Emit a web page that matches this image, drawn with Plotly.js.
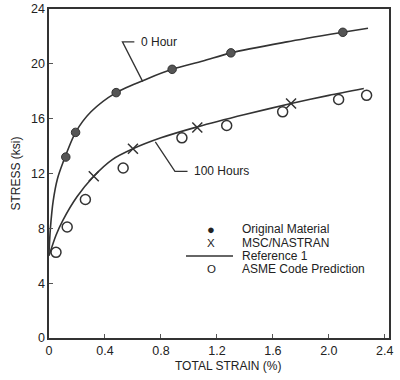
<!DOCTYPE html>
<html><head><meta charset="utf-8">
<script src="https://cdn.plot.ly/plotly-3.0.1.min.js"></script>
<style>html,body{margin:0;padding:0;background:#fff}#chart{width:400px;height:380px}</style>
</head><body><div id="chart"></div>
<script>
// Reference 1 fitted curves
const curve0hX = [0, 0.01, 0.03, 0.06, 0.1, 0.19, 0.3, 0.48, 0.7, 0.88, 1.1, 1.3, 1.7, 2.1, 2.28];
const curve0hY = [6.2, 8.0, 10.0, 11.6, 12.8, 15.0, 16.5, 17.9, 18.9, 19.6, 20.2, 20.8, 21.6, 22.3, 22.6];
const curve100hX = [0, 0.05, 0.1, 0.2, 0.32, 0.45, 0.6, 0.8, 1.06, 1.4, 1.73, 2.0, 2.25];
const curve100hY = [6.0, 7.5, 8.6, 10.3, 11.8, 13.0, 13.8, 14.6, 15.4, 16.3, 17.1, 17.7, 18.2];
// Original material (0 hour)
const origX = [0.12, 0.19, 0.48, 0.88, 1.30, 2.10];
const origY = [13.2, 15.0, 17.9, 19.6, 20.8, 22.3];
// MSC/NASTRAN (100 hours)
const nastranX = [0.32, 0.60, 1.06, 1.73];
const nastranY = [11.8, 13.8, 15.35, 17.1];
// ASME Code Prediction
const asmeX = [0.05, 0.13, 0.26, 0.53, 0.95, 1.27, 1.67, 2.07, 2.27];
const asmeY = [6.25, 8.1, 10.1, 12.4, 14.6, 15.5, 16.5, 17.4, 17.7];
// Axis ticks
const xTicks = [0, 0.4, 0.8, 1.2, 1.6, 2.0, 2.4];
const xTickText = ["0", "0.4", "0.8", "1.2", "1.6", "2.0", "2.4"];
const yTicks = [0, 4, 8, 12, 16, 20, 24];
const legendLabels = ["Original Material", "MSC/NASTRAN", "Reference 1", "ASME Code Prediction"];

const ink = '#333';
const fam = 'Liberation Sans, Arial, sans-serif';
const font = {family: fam, size: 12, color: '#222'};

const traces = [
  {x: curve0hX, y: curve0hY, mode: 'lines', line: {color: ink, width: 1.6, shape: 'spline', smoothing: 0.8}, hoverinfo: 'skip'},
  {x: curve100hX, y: curve100hY, mode: 'lines', line: {color: ink, width: 1.6, shape: 'spline', smoothing: 0.8}, hoverinfo: 'skip'},
  {x: origX, y: origY, mode: 'markers', marker: {symbol: 'circle', size: 8.5, color: '#555', line: {color: '#333', width: 1}}},
  {x: nastranX, y: nastranY, mode: 'markers', marker: {symbol: 'x-thin-open', size: 10, color: ink, line: {color: ink, width: 1.5}}},
  {x: asmeX, y: asmeY, mode: 'markers', marker: {symbol: 'circle-open', size: 10, color: ink, line: {color: ink, width: 1.5}}}
];

function px2x(p){ return (p - 49)/340; }
function py2y(p){ return (338 - p)/329; }

const legendRows = [229, 243, 256, 269];
const legendSymbols = ['●', 'X', '', 'O'];
const annotations = [];
legendLabels.forEach((t, i) => {
  annotations.push({xref: 'paper', yref: 'paper', x: px2x(240), y: py2y(legendRows[i]), text: t, showarrow: false, xanchor: 'left', yanchor: 'middle', font: {family: fam, size: 12, color: '#222'}});
  if (legendSymbols[i]) annotations.push({xref: 'paper', yref: 'paper', x: px2x(211), y: py2y(legendRows[i]), text: legendSymbols[i], showarrow: false, xanchor: 'center', yanchor: 'middle', font: {family: fam, size: i === 0 ? 13 : 11.5, color: '#222'}});
});
annotations.push({xref: 'x', yref: 'y', x: 0.64, y: 21.6, text: '0 Hour', showarrow: false, xanchor: 'left', yanchor: 'middle', font: {family: fam, size: 12, color: '#222'}});
annotations.push({xref: 'x', yref: 'y', x: 1.02, y: 12.15, text: '100 Hours', showarrow: false, xanchor: 'left', yanchor: 'middle', font: {family: fam, size: 12, color: '#222'}});
annotations.push({xref: 'paper', yref: 'paper', x: px2x(228), y: py2y(366), text: 'TOTAL STRAIN (%)', showarrow: false, xanchor: 'center', yanchor: 'middle', font: {family: fam, size: 12, color: '#222'}});

const shapes = [
  {type: 'path', xref: 'x', yref: 'y', path: 'M 0.61 21.6 L 0.525 21.6 L 0.67 18.7', line: {color: ink, width: 1.3}},
  {type: 'path', xref: 'x', yref: 'y', path: 'M 0.76 14.3 L 0.90 12.15 L 0.99 12.15', line: {color: ink, width: 1.3}},
  {type: 'line', xref: 'paper', yref: 'paper', x0: px2x(186), x1: px2x(233), y0: py2y(256), y1: py2y(256), line: {color: ink, width: 1.6}}
];

const layout = {
  width: 400, height: 380,
  margin: {l: 49, r: 11, t: 9, b: 42},
  paper_bgcolor: '#fff', plot_bgcolor: '#fff',
  showlegend: false,
  font: font,
  xaxis: {range: [0, 2.43], tickvals: xTicks, ticktext: xTickText, ticks: 'inside', ticklen: 4, tickcolor: '#555',
    tickfont: {family: fam, size: 12.5, color: '#222'},
    showline: true, mirror: true, linecolor: '#333', linewidth: 1.6, showgrid: false, zeroline: false, fixedrange: true},
  yaxis: {range: [0, 24], tickvals: yTicks, ticks: 'inside', ticklen: 4, tickcolor: '#555',
    tickfont: {family: fam, size: 12.5, color: '#222'},
    showline: true, mirror: true, linecolor: '#333', linewidth: 1.6, showgrid: false, zeroline: false, fixedrange: true,
    title: {text: 'STRESS (ksi)', font: {family: fam, size: 12, color: '#222'}, standoff: 8}},
  annotations: annotations,
  shapes: shapes
};
Plotly.newPlot('chart', traces, layout, {displayModeBar: false, staticPlot: true});
</script></body></html>
